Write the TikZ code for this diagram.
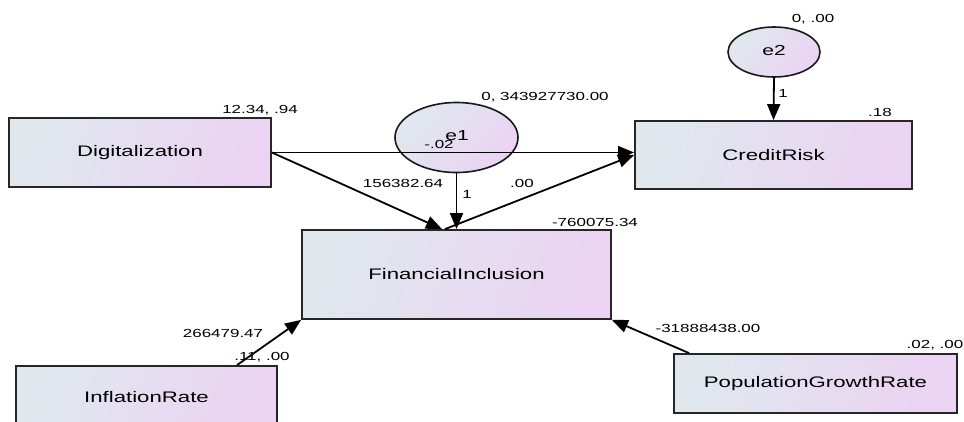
\documentclass[tikz,border=0pt]{standalone}
\usepackage{fontspec}
\setmainfont[FakeStretch=1.45]{Liberation Sans}
\usetikzlibrary{arrows.meta,shapes.geometric}
\definecolor{shadeA}{HTML}{E0E8EE}
\definecolor{shadeB}{HTML}{EBD3F3}
\tikzset{
  varbox/.style={rectangle, draw=black!85, line width=1.8pt,
    left color=shadeA, right color=shadeB, shading angle=70,
    inner sep=0pt, font=\fontsize{15.3}{18}\selectfont},
  errvar/.style={ellipse, draw=black!90, line width=1.6pt,
    left color=shadeA, right color=shadeB, shading angle=45,
    inner sep=0pt},
  errlabel/.style={inner sep=0pt, font=\fontsize{14.5}{16}\selectfont},
  val/.style={inner sep=0pt, font=\fontsize{11.7}{13}\selectfont},
  regpath/.style={line width=1.8pt, -{Triangle[length=16pt,width=13pt]}},
  covline/.style={line width=1.3pt, -{Triangle[length=16pt,width=13pt]}}
}
\begin{document}
\begin{tikzpicture}[x=1pt,y=-1pt]
\useasboundingbox (0,0) rectangle (964,421);
\clip (0,0) rectangle (964,421);
\fill[white] (0,0) rectangle (964,421);

% observed variables
\node[varbox, minimum width=262pt, minimum height=69pt] (dig) at (140,152.5) {Digitalization};
\node[varbox, minimum width=277pt, minimum height=68pt] (cr) at (773.5,155) {CreditRisk};
\node[varbox, minimum width=309pt, minimum height=89pt] (fi) at (456.5,274.5) {FinancialInclusion};
\node[varbox, minimum width=261pt, minimum height=62pt] (inf) at (146.5,397) {InflationRate};
\node[varbox, minimum width=283pt, minimum height=59pt] (pop) at (815.5,383.5) {PopulationGrowthRate};

% error terms
\node[errvar, minimum width=123pt, minimum height=70pt] (e1) at (456.5,137.5) {};
\node[errvar, minimum width=92pt, minimum height=50pt] (e2) at (774,52) {};
\node[errlabel] (e1t) at (457,136) {e1};
\node[errlabel] (e2t) at (774,51) {e2};

% paths
\draw[covline] (dig.east) -- (cr.west |- dig.east);
\draw[regpath] (dig.east) -- ([xshift=-14.5pt]fi.north);
\draw[regpath] (e1.south) -- (fi.north);
\draw[regpath] ([xshift=-11.5pt]fi.north) -- (cr.west);
\draw[regpath] (e2.south) -- (cr.north);
\draw[regpath] ([xshift=90.5pt]inf.north) -- (fi.south west);
\draw[regpath] ([xshift=16pt]pop.north west) -- (fi.south east);

% estimates
\node[val] (l1) at (260,110) {12.34, .94};
\node[val] (l2) at (545,97) {0, 343927730.00};
\node[val] (l3) at (439,144) {-.02};
\node[val] (l4) at (403,183) {156382.64};
\node[val] (l5) at (467,194) {1};
\node[val] (l6) at (522,183) {.00};
\node[val] (l7) at (813,19) {0, .00};
\node[val] (l8) at (783,93) {1};
\node[val] (l9) at (880,112) {.18};
\node[val] (l10) at (595,222) {-760075.34};
\node[val] (l11) at (223,333) {266479.47};
\node[val] (l12) at (262,357) {.11, .00};
\node[val] (l13) at (708,328) {-31888438.00};
\node[val] (l14) at (935,345) {.02, .00};
\end{tikzpicture}
\end{document}
